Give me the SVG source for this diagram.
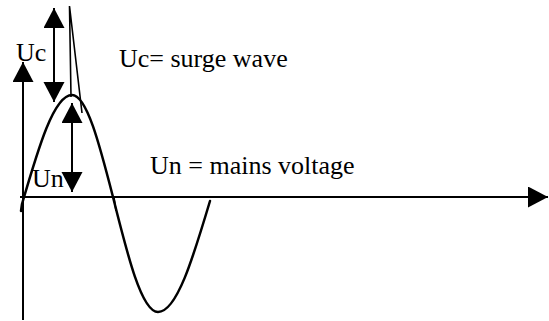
<svg xmlns="http://www.w3.org/2000/svg" width="549" height="321" viewBox="0 0 549 321">
  <style>
    .txt { font-family: 'Liberation Serif', 'DejaVu Serif', serif; font-size: 26px; fill: #000; }
    .ax { stroke: #000; stroke-width: 2; fill: none; }
    .dbl { stroke: #000; stroke-width: 2; fill: none; }
    .wave { stroke: #000; stroke-width: 2.5; fill: none; stroke-linejoin: round; stroke-linecap: round; }
    .spike { stroke: #000; stroke-width: 1.6; fill: none; }
  </style>
  <defs>
    <marker id="ah" markerUnits="userSpaceOnUse" markerWidth="21" markerHeight="22" refX="20" refY="10.5" orient="auto-start-reverse" viewBox="0 0 21 22">
      <path d="M0,0 L20,10.5 L0,21 z" fill="#000"/>
    </marker>
  </defs>
  <rect width="549" height="321" fill="#fff"/>

  <g id="connectors">
    <line id="x-axis" class="ax" x1="20" y1="197" x2="548" y2="197" marker-end="url(#ah)"/>
    <line id="y-axis" class="ax" x1="23" y1="320" x2="23" y2="62" marker-end="url(#ah)"/>
    <line id="uc-arrow" class="dbl" x1="54" y1="8" x2="54" y2="102" marker-start="url(#ah)" marker-end="url(#ah)"/>
    <line id="un-arrow" class="dbl" x1="72" y1="103" x2="72" y2="192" marker-start="url(#ah)" marker-end="url(#ah)"/>
  </g>

  <g id="wave">
    <path class="wave" d="M21,211 L22,204 C38.3,148 53.9,95 72,95 C86.8,95 99.6,144.7 113,197 C127.7,256 141.7,312 158,312 C176.8,312 193,258 210,201"/>
    <path class="spike" d="M71,97 L69.5,6 L82,113"/>
    <path class="spike" d="M114,197 L116,211"/>
  </g>

  <g id="label-uc"><text class="txt" font-family="Liberation Serif, serif" x="16" y="61">Uc</text></g>
  <g id="label-uc-def"><text class="txt" font-family="Liberation Serif, serif" x="119" y="67">Uc= surge wave</text></g>
  <g id="label-un-def"><text class="txt" font-family="Liberation Serif, serif" x="150" y="174">Un = mains voltage</text></g>
  <g id="label-un"><text class="txt" font-family="Liberation Serif, serif" x="32" y="187">Un</text></g>
</svg>
